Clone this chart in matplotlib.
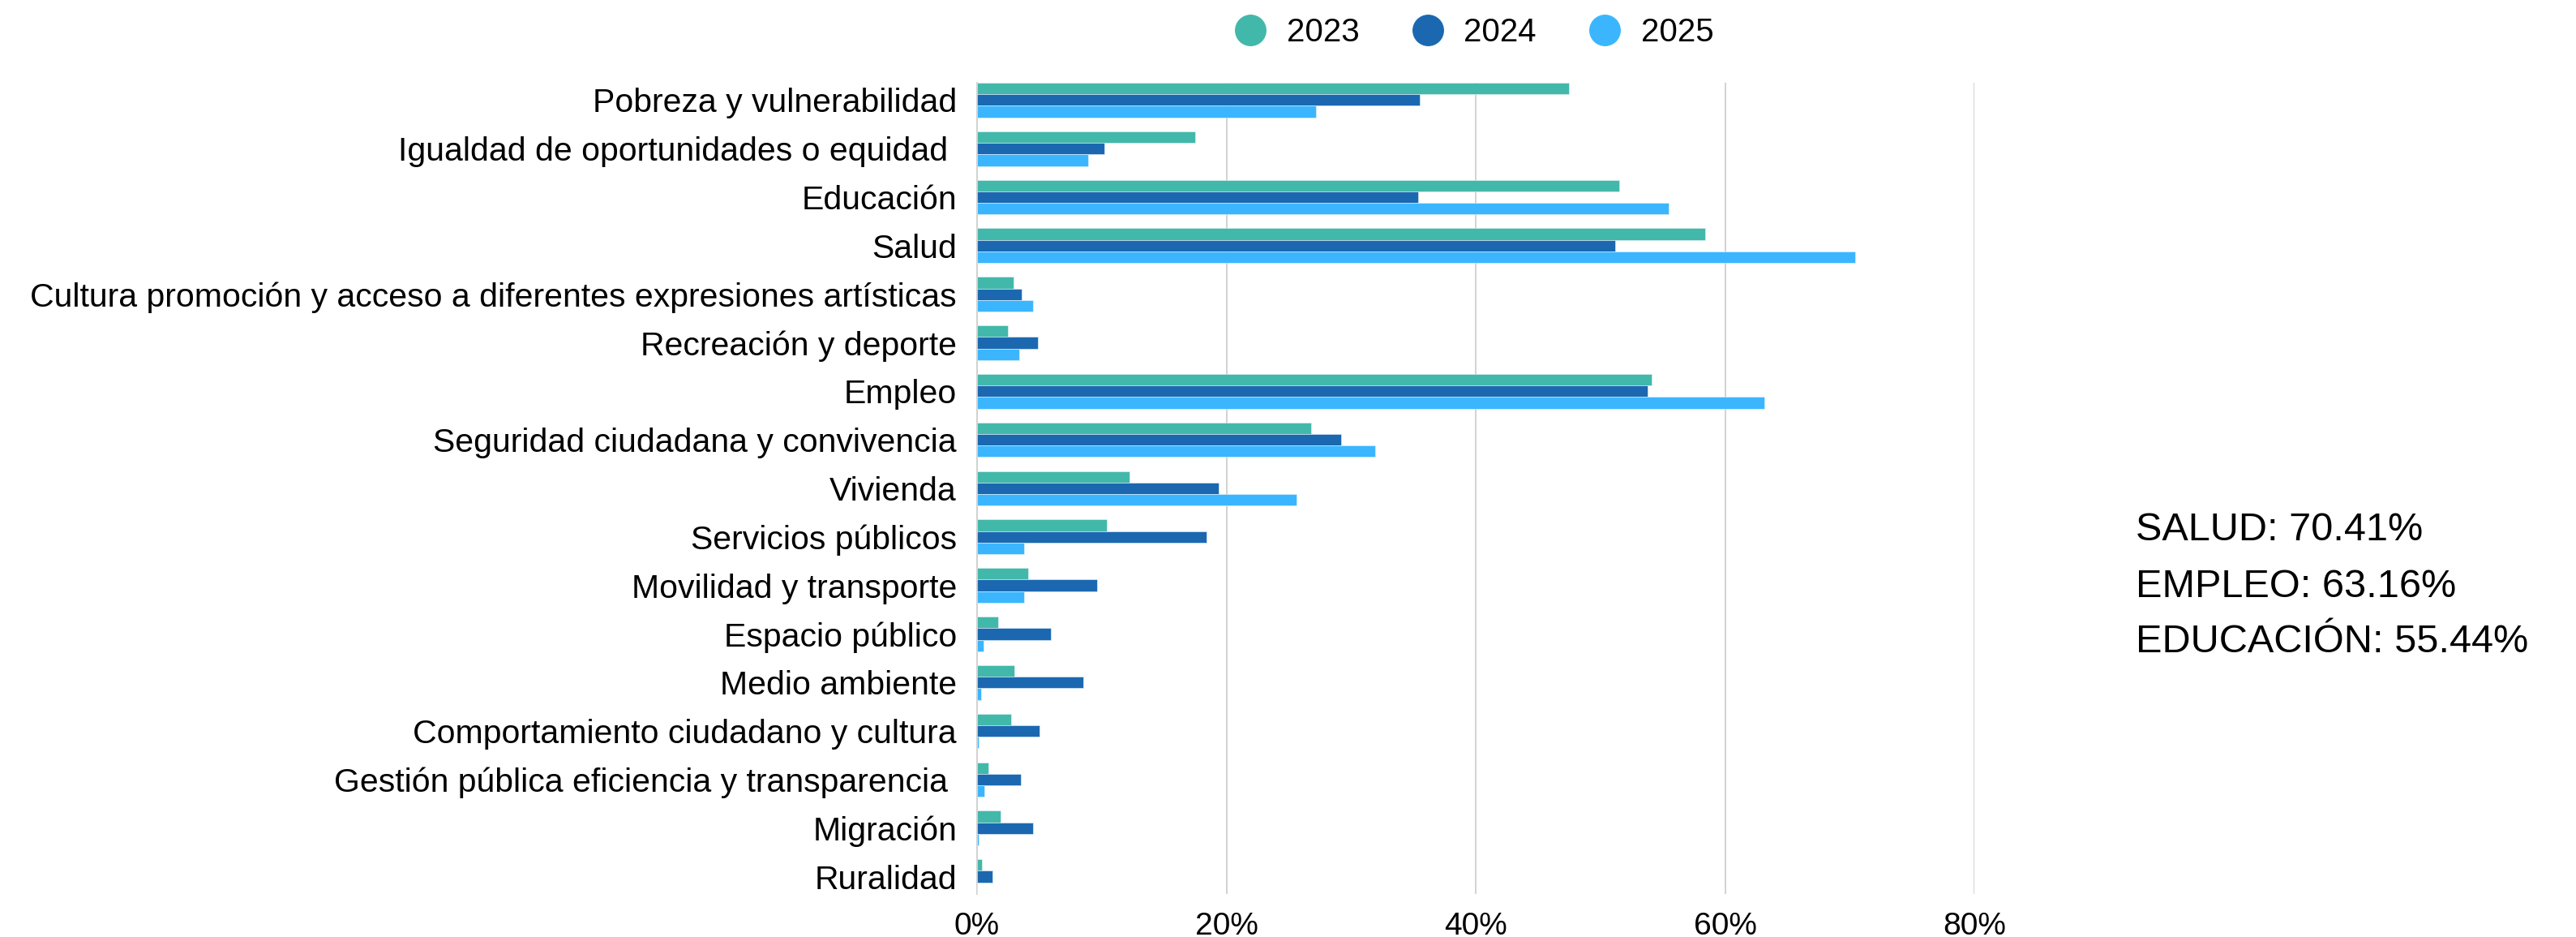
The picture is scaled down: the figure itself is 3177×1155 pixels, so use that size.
import matplotlib.pyplot as plt
from matplotlib.lines import Line2D
import numpy as np

categories = [
    "Pobreza y vulnerabilidad",
    "Igualdad de oportunidades o equidad ",
    "Educación",
    "Salud",
    "Cultura promoción y acceso a diferentes expresiones artísticas",
    "Recreación y deporte",
    "Empleo",
    "Seguridad ciudadana y convivencia",
    "Vivienda",
    "Servicios públicos",
    "Movilidad y transporte",
    "Espacio público",
    "Medio ambiente",
    "Comportamiento ciudadano y cultura",
    "Gestión pública eficiencia y transparencia ",
    "Migración",
    "Ruralidad",
]
years = ["2023", "2024", "2025"]
v2023 = [47.5, 17.5, 51.5, 58.4, 2.9, 2.5, 54.1, 26.8, 12.2, 10.4, 4.1, 1.7, 3.0, 2.7, 0.9, 1.9, 0.4]
v2024 = [35.5, 10.2, 35.4, 51.2, 3.6, 4.9, 53.8, 29.2, 19.4, 18.4, 9.6, 5.9, 8.5, 5.0, 3.5, 4.5, 1.25]
v2025 = [27.2, 8.9, 55.44, 70.41, 4.5, 3.4, 63.16, 31.9, 25.6, 3.8, 3.8, 0.55, 0.3, 0.15, 0.6, 0.15, 0.0]
highlights = [("SALUD", 70.41), ("EMPLEO", 63.16), ("EDUCACIÓN", 55.44)]
xticks = [0, 20, 40, 60, 80]

colors = ["#42B8AA", "#1B68B1", "#3BB6FE"]

plt.rcParams["font.family"] = ["Liberation Sans", "DejaVu Sans"]

fig = plt.figure(figsize=(31.77, 11.55), dpi=100)
ax = fig.add_axes([0.3793, 0.046, 0.3872, 0.8657])

# three bars per topic, stacked tightly around the tick
y = np.arange(len(categories))
h = 0.238
for i, (vals, c) in enumerate(zip([v2023, v2024, v2025], colors)):
    ax.barh(y + (i - 1) * h, vals, height=h, color=c, edgecolor="#e8f4fb",
            linewidth=0.4, zorder=3)

ax.set_xlim(0, 80)
ax.set_ylim(len(categories) - 1 + 0.357, -0.357)
ax.set_xticks(xticks)
ax.set_xticklabels([f"{t}%" for t in xticks], fontsize=28)
ax.set_yticks(y)
ax.set_yticklabels(categories, fontsize=29.5)
ax.tick_params(axis="both", length=0)
ax.tick_params(axis="y", pad=18)
ax.tick_params(axis="x", pad=16)
ax.grid(axis="x", color="#cfcfcf", linewidth=1.3, zorder=0)
for s in ["top", "right", "bottom"]:
    ax.spines[s].set_visible(False)
ax.spines["left"].set_color("#cfcfcf")
ax.spines["left"].set_linewidth(1.3)

handles = [Line2D([], [], marker="o", linestyle="none", markersize=27,
                  markerfacecolor=c, markeredgecolor=c) for c in colors]
fig.legend(handles, years, loc="center", bbox_to_anchor=(0.569, 0.965), ncol=3,
           frameon=False, fontsize=29, handletextpad=0.1, columnspacing=1.1)

for k, (name, val) in enumerate(highlights):
    fig.text(0.829, 1 - (654 + 69 * k) / 1155, f"{name}: {val:.2f}%",
             fontsize=35, va="center", ha="left")

fig.savefig("out.png", dpi=100)
